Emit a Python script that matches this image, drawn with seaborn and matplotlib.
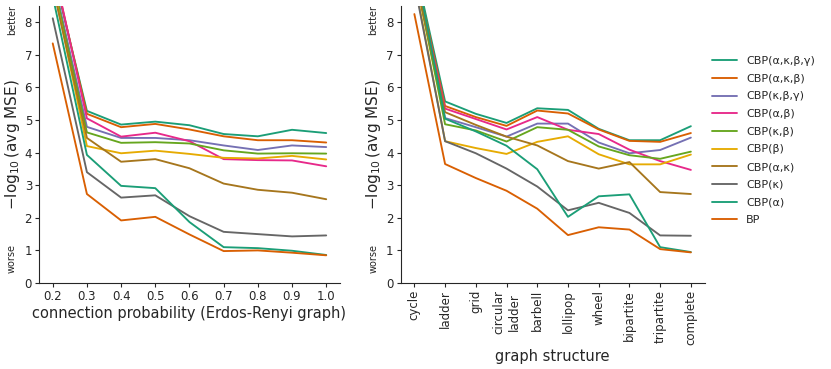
import numpy as np
import pandas as pd
import matplotlib
matplotlib.use("Agg")
import matplotlib.pyplot as plt
import seaborn as sns

series = ["CBP(α,κ,β,γ)", "CBP(α,κ,β)", "CBP(κ,β,γ)", "CBP(α,β)", "CBP(κ,β)",
          "CBP(β)", "CBP(α,κ)", "CBP(κ)", "CBP(α)", "BP"]

# connection probability (Erdos-Renyi graph)
probs = [0.2, 0.3, 0.4, 0.5, 0.6, 0.7, 0.8, 0.9, 1.0]
er_vals = {
    "CBP(α,κ,β,γ)": [9.6, 5.28, 4.86, 4.95, 4.84, 4.57, 4.50, 4.70, 4.60],
    "CBP(α,κ,β)":   [9.7, 5.19, 4.78, 4.88, 4.71, 4.50, 4.38, 4.38, 4.31],
    "CBP(κ,β,γ)":   [9.4, 4.79, 4.45, 4.45, 4.38, 4.22, 4.08, 4.22, 4.17],
    "CBP(α,β)":     [9.8, 5.05, 4.49, 4.61, 4.35, 3.80, 3.77, 3.76, 3.58],
    "CBP(κ,β)":     [9.3, 4.62, 4.30, 4.32, 4.28, 4.07, 3.97, 3.98, 3.97],
    "CBP(β)":       [9.2, 4.20, 3.98, 4.06, 3.96, 3.84, 3.82, 3.90, 3.79],
    "CBP(α,κ)":     [9.1, 4.45, 3.72, 3.80, 3.52, 3.05, 2.86, 2.77, 2.57],
    "CBP(κ)":       [8.12, 3.40, 2.62, 2.69, 2.05, 1.57, 1.50, 1.43, 1.46],
    "CBP(α)":       [8.8, 3.93, 2.98, 2.91, 1.87, 1.10, 1.07, 0.99, 0.86],
    "BP":           [7.35, 2.73, 1.92, 2.03, 1.49, 0.98, 1.00, 0.93, 0.85],
}

# graph structures
structs = ["cycle", "ladder", "grid", "circular\nladder", "barbell", "lollipop",
           "wheel", "bipartite", "tripartite", "complete"]
gs_vals = {
    "CBP(α,κ,β,γ)": [9.8, 5.57, 5.19, 4.91, 5.36, 5.31, 4.73, 4.38, 4.38, 4.81],
    "CBP(α,κ,β)":   [9.7, 5.43, 5.09, 4.82, 5.29, 5.20, 4.71, 4.36, 4.33, 4.60],
    "CBP(κ,β,γ)":   [9.5, 5.06, 4.78, 4.49, 4.89, 4.89, 4.31, 3.98, 4.08, 4.46],
    "CBP(α,β)":     [9.6, 5.35, 5.03, 4.71, 5.09, 4.70, 4.57, 4.09, 3.74, 3.47],
    "CBP(κ,β)":     [9.6, 4.87, 4.68, 4.34, 4.78, 4.70, 4.19, 3.92, 3.81, 4.03],
    "CBP(β)":       [9.3, 4.35, 4.14, 3.96, 4.33, 4.50, 3.95, 3.64, 3.64, 3.94],
    "CBP(α,κ)":     [9.5, 5.24, 4.85, 4.49, 4.22, 3.74, 3.51, 3.71, 2.79, 2.73],
    "CBP(κ)":       [9.2, 4.35, 3.98, 3.51, 2.96, 2.23, 2.46, 2.15, 1.46, 1.45],
    "CBP(α)":       [9.9, 5.04, 4.65, 4.21, 3.49, 2.03, 2.66, 2.72, 1.10, 0.95],
    "BP":           [8.25, 3.65, 3.22, 2.83, 2.28, 1.47, 1.71, 1.64, 1.04, 0.94],
}

palette = sns.color_palette("Dark2", 8)
colors = [palette[i % 8] for i in range(len(series))]

er_df = pd.DataFrame([(s, p, v) for s in series for p, v in zip(probs, er_vals[s])],
                     columns=["method", "x", "y"])
gs_df = pd.DataFrame([(s, g, v) for s in series for g, v in zip(structs, gs_vals[s])],
                     columns=["method", "x", "y"])

sns.set_style("ticks")
plt.rcParams["font.family"] = ["DejaVu Sans"]

fig = plt.figure(figsize=(8.31, 3.69), dpi=100)
ax1 = fig.add_axes([0.047, 0.233, 0.362, 0.751])
ax2 = fig.add_axes([0.482, 0.233, 0.366, 0.751])

sns.lineplot(data=er_df, x="x", y="y", hue="method", hue_order=series,
             palette=colors, sort=False, linewidth=1.35, ax=ax1, legend=False)
sns.lineplot(data=gs_df, x="x", y="y", hue="method", hue_order=series,
             palette=colors, sort=False, linewidth=1.35, ax=ax2)

ax1.set_xticks(probs)
ax1.set_xlabel("connection probability (Erdos-Renyi graph)", fontsize=10.5, labelpad=2)
ax2.set_xlabel("graph structure", fontsize=10.5, labelpad=3)
ax2.tick_params(axis="x", labelrotation=90)

for ax in (ax1, ax2):
    ax.set_ylim(0, 8.5)
    ax.set_yticks(range(0, 9))
    ax.set_ylabel(r"$-\log_{10}$(avg MSE)", fontsize=11, labelpad=2)
    ax.tick_params(labelsize=8.5, length=3, pad=2)
    ax.text(-0.09, 0.95, "better", rotation=90, fontsize=7, transform=ax.transAxes,
            ha="center", va="center")
    ax.text(-0.09, 0.09, "worse", rotation=90, fontsize=7, transform=ax.transAxes,
            ha="center", va="center")
    sns.despine(ax=ax)

ax2.legend(loc="upper left", bbox_to_anchor=(1.01, 0.835), frameon=False,
           fontsize=8, handlelength=2.25, handletextpad=0.8, labelspacing=0.69,
           borderaxespad=0)

plt.savefig("out.png", dpi=100)
